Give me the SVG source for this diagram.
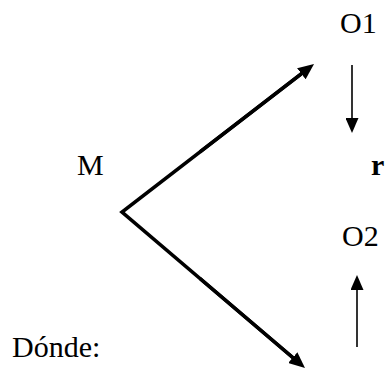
<svg xmlns="http://www.w3.org/2000/svg" width="386" height="373" viewBox="0 0 386 373">
<style>
text{font-family:"Liberation Serif","Times New Roman",serif;font-size:30px;fill:#000}
.thick{stroke:#000;stroke-width:3.6;fill:none}
.thin{stroke:#000;stroke-width:1.6;fill:none}
</style>
<defs>
<marker id="hb" markerUnits="userSpaceOnUse" markerWidth="16" markerHeight="14" refX="6" refY="7" orient="auto"><path d="M0,0 L16,7 L0,14 z" fill="#000"/></marker>
<marker id="hs" markerUnits="userSpaceOnUse" markerWidth="15" markerHeight="13" refX="5" refY="6.5" orient="auto"><path d="M0,0 L15,6.5 L0,13 z" fill="#000"/></marker>
</defs>
<rect width="386" height="373" fill="#fff"/>
<g id="connectors">
<polyline class="thick" points="306.1,70.1 122,212 297.4,361.5" stroke-linejoin="miter"/>
<line class="thick" x1="200" y1="151.9" x2="306.1" y2="70.1" marker-end="url(#hb)"/>
<line class="thick" x1="200" y1="278.5" x2="297.4" y2="361.5" marker-end="url(#hb)"/>
<line class="thin" x1="352" y1="65" x2="352" y2="123" marker-end="url(#hs)"/>
<line class="thin" x1="357" y1="347" x2="357" y2="285" marker-end="url(#hs)"/>
</g>
<g id="node-M"><text x="77" y="175">M</text></g>
<g id="node-O1"><text x="340" y="33">O1</text></g>
<g id="node-r"><text x="371" y="175" font-weight="bold">r</text></g>
<g id="node-O2"><text x="342" y="246">O2</text></g>
<g id="label-donde"><text x="12" y="357">Dónde:</text></g>
</svg>
